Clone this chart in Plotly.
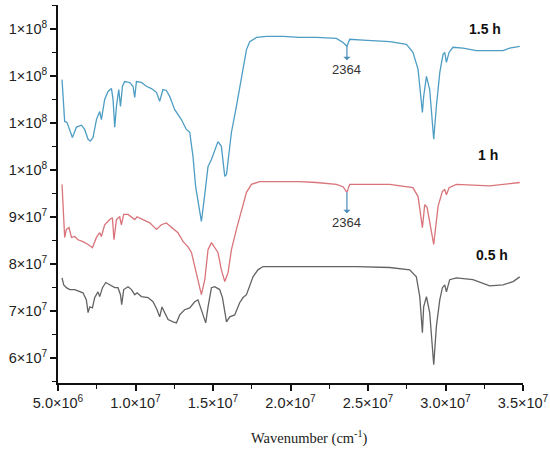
import numpy as np
import plotly.graph_objects as go

# Wavenumber (cm-1) and signal (units of 1e7)
WN_15 = [526, 543, 558, 576, 593, 619, 651, 672, 694, 709, 726, 748, 769, 780, 801, 823, 845, 855, 866, 877,
         892, 903, 916, 930, 963, 984, 995, 1006, 1038, 1070, 1103, 1135, 1156, 1177, 1199, 1221, 1253, 1296,
         1328, 1350, 1371, 1388, 1403, 1425, 1443, 1468, 1490, 1532, 1554, 1576, 1587, 1619, 1651, 1683, 1716,
         1737, 1780, 1845, 1952, 2059, 2167, 2296, 2339, 2364, 2382, 2468, 2640, 2748, 2790, 2823, 2851, 2859,
         2877, 2898, 2924, 2941, 2963, 2984, 2995, 3006, 3023, 3048, 3113, 3199, 3285, 3371, 3414, 3479]
Y_15 = [11.93, 11.04, 11.02, 10.83, 10.70, 10.92, 10.96, 10.87, 10.66, 10.62, 10.70, 11.08, 11.25, 11.08, 11.51,
        11.68, 11.74, 11.51, 10.92, 11.36, 11.72, 11.36, 11.79, 11.89, 11.87, 11.79, 11.55, 11.89, 11.87, 11.79,
        11.74, 11.66, 11.47, 11.72, 11.70, 11.57, 11.29, 11.08, 10.87, 10.81, 10.29, 9.65, 9.38, 8.91, 9.38,
        10.08, 10.23, 10.61, 10.51, 9.87, 9.91, 10.81, 11.36, 12.00, 12.57, 12.74, 12.83, 12.85, 12.85, 12.83,
        12.83, 12.81, 12.72, 12.64, 12.79, 12.77, 12.74, 12.68, 12.51, 12.15, 11.23, 11.57, 12.00, 11.72, 10.66,
        11.36, 12.08, 12.47, 12.51, 12.30, 12.51, 12.62, 12.60, 12.55, 12.55, 12.55, 12.60, 12.64]

WN_10 = [526, 537, 543, 554, 571, 587, 608, 629, 661, 694, 722, 748, 769, 780, 801, 834, 851, 861, 877, 898,
         909, 924, 952, 995, 1010, 1048, 1092, 1135, 1167, 1199, 1232, 1274, 1307, 1339, 1361, 1382, 1403, 1425,
         1447, 1468, 1490, 1511, 1532, 1554, 1576, 1597, 1619, 1651, 1683, 1716, 1748, 1801, 1952, 2059, 2167,
         2296, 2339, 2364, 2382, 2640, 2790, 2823, 2851, 2866, 2881, 2924, 2952, 2980, 2995, 3006, 3023, 3070,
         3285, 3393, 3479]
Y_10 = [9.70, 8.78, 8.57, 8.74, 8.78, 8.57, 8.59, 8.52, 8.48, 8.42, 8.35, 8.57, 8.67, 8.59, 8.84, 8.95, 8.99,
        8.52, 8.95, 9.01, 8.84, 9.06, 9.06, 8.95, 9.01, 8.95, 8.88, 8.74, 8.84, 8.88, 8.78, 8.67, 8.48, 8.37,
        8.25, 7.95, 7.61, 7.35, 7.67, 8.31, 8.46, 8.35, 8.25, 7.88, 7.63, 7.82, 8.31, 8.74, 9.16, 9.53, 9.70,
        9.76, 9.76, 9.76, 9.74, 9.70, 9.65, 9.53, 9.70, 9.70, 9.63, 9.44, 8.78, 9.27, 9.21, 8.42, 9.23, 9.55,
        9.59, 9.48, 9.63, 9.70, 9.67, 9.70, 9.74]

WN_05 = [526, 537, 554, 576, 608, 640, 661, 683, 694, 705, 722, 737, 758, 769, 787, 808, 834, 866, 887, 903,
         911, 924, 952, 974, 995, 1010, 1038, 1081, 1113, 1139, 1156, 1171, 1188, 1210, 1242, 1264, 1285, 1317,
         1350, 1382, 1403, 1425, 1442, 1453, 1468, 1490, 1511, 1543, 1561, 1576, 1587, 1608, 1640, 1672, 1694,
         1716, 1737, 1758, 1790, 1823, 1952, 2059, 2210, 2425, 2640, 2769, 2812, 2834, 2851, 2859, 2877, 2898,
         2924, 2941, 2963, 2980, 2995, 3006, 3027, 3070, 3177, 3285, 3371, 3436, 3479]
Y_05 = [7.71, 7.56, 7.50, 7.46, 7.46, 7.41, 7.39, 7.24, 6.97, 7.09, 7.07, 7.29, 7.41, 7.31, 7.50, 7.61, 7.56,
        7.50, 7.50, 7.35, 7.14, 7.46, 7.52, 7.46, 7.35, 7.39, 7.31, 7.29, 7.20, 7.03, 6.88, 7.09, 6.97, 6.82,
        6.77, 6.75, 6.92, 7.03, 7.07, 7.20, 7.24, 7.03, 6.86, 6.75, 7.09, 7.50, 7.52, 7.46, 7.29, 7.03, 6.77,
        6.88, 6.92, 7.18, 7.29, 7.35, 7.56, 7.73, 7.88, 7.95, 7.95, 7.95, 7.95, 7.95, 7.93, 7.88, 7.73, 7.31,
        6.54, 7.09, 7.31, 6.97, 5.86, 6.67, 7.24, 7.50, 7.56, 7.41, 7.67, 7.71, 7.67, 7.54, 7.56, 7.63, 7.73]

SERIES = ["1.5 h", "1 h", "0.5 h"]
COLORS = ["#4d9dc4", "#d9747a", "#636363"]

X_TICKS = [5e6, 1e7, 1.5e7, 2e7, 2.5e7, 3e7, 3.5e7]
X_TEXT = ["5.0×10<sup>6</sup>", "1.0×10<sup>7</sup>", "1.5×10<sup>7</sup>", "2.0×10<sup>7</sup>",
          "2.5×10<sup>7</sup>", "3.0×10<sup>7</sup>", "3.5×10<sup>7</sup>"]
Y_TICKS = [6e7, 7e7, 8e7, 9e7, 1e8, 1.1e8, 1.2e8, 1.3e8]
Y_TEXT = ["6×10<sup>7</sup>", "7×10<sup>7</sup>", "8×10<sup>7</sup>", "9×10<sup>7</sup>",
          "1×10<sup>8</sup>", "1×10<sup>8</sup>", "1×10<sup>8</sup>", "1×10<sup>8</sup>"]

PEAK = 2364
PEAK_Y = [12.64, 9.53]

fig = go.Figure()
for wn, yv, name, col in zip([WN_15, WN_10, WN_05], [Y_15, Y_10, Y_05], SERIES, COLORS):
    fig.add_trace(go.Scatter(x=np.array(wn) * 1e4, y=np.array(yv) * 1e7, mode="lines", name=name,
                             line=dict(color=col, width=1.3)))

tickfont = dict(family="Liberation Sans, Arial", size=14.5, color="#222")
axis_common = dict(showline=True, linecolor="#111", linewidth=2, ticks="outside", ticklen=6,
                   tickwidth=1.5, tickcolor="#111", showgrid=False, zeroline=False,
                   tickmode="array", tickfont=tickfont, automargin=False)
fig.update_xaxes(range=[5e6, 3.5e7], tickvals=X_TICKS, ticktext=X_TEXT,
                 minor=dict(tickmode="linear", tick0=7.5e6, dtick=5e6, ticks="outside", ticklen=4,
                            tickwidth=1.2, tickcolor="#111"), **axis_common)
fig.update_yaxes(range=[5.47e7, 1.352e8], tickvals=Y_TICKS, ticktext=Y_TEXT,
                 minor=dict(tickmode="linear", tick0=6.5e7, dtick=1e7, ticks="outside", ticklen=4,
                            tickwidth=1.2, tickcolor="#111"), **axis_common)

# series labels
label_pos = [(3253, 13.0), (3272, 10.33), (3298, 8.2)]
for (lx, ly), name in zip(label_pos, SERIES):
    fig.add_annotation(x=lx * 1e4, y=ly * 1e7, text="<b>%s</b>" % name, showarrow=False,
                       font=dict(family="Liberation Sans, Arial", size=14, color="#111"))

for py, ay in zip(PEAK_Y, [23, 30]):
    fig.add_annotation(x=PEAK * 1e4, y=py * 1e7, text=str(PEAK), showarrow=True, ax=0, ay=ay,
                       arrowside="start", arrowhead=2, arrowsize=0.9, arrowwidth=1.2,
                       arrowcolor="#4a8db8", standoff=0, startstandoff=0,
                       font=dict(family="Liberation Sans, Arial", size=13, color="#333"))

fig.add_annotation(xref="paper", yref="paper", x=0.541, y=-0.1455, text="Wavenumber (cm<sup>-1</sup>)",
                   showarrow=False, yanchor="middle",
                   font=dict(family="Liberation Serif, DejaVu Serif, serif", size=14.5, color="#222"))

fig.update_layout(width=550, height=457, margin=dict(l=58, r=27, t=5, b=74, autoexpand=False),
                  plot_bgcolor="white", paper_bgcolor="white", showlegend=False)

fig.write_html("out.html", config={"displayModeBar": False},
               post_script="document.body.style.margin='0';document.body.style.overflow='hidden';")
